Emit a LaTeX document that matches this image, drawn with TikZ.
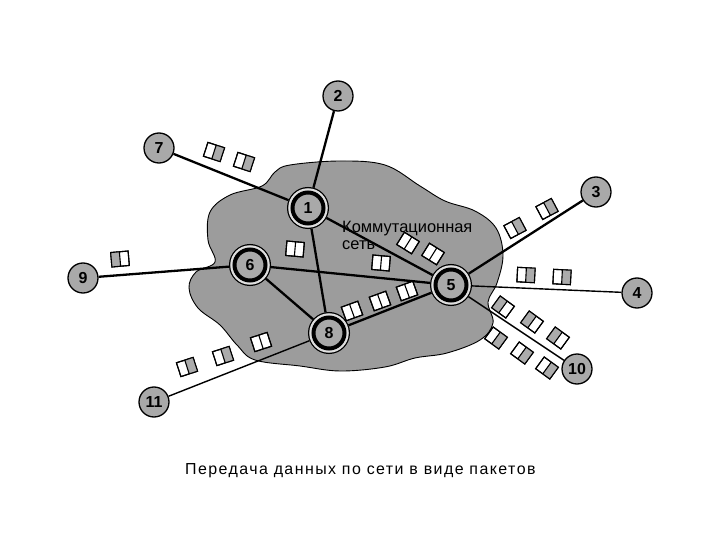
\documentclass[tikz,border=0pt]{standalone}
\usepackage{fontspec}
\setmainfont{Liberation Sans}
\definecolor{cloudgray}{HTML}{9C9C9C}
\definecolor{nodegray}{HTML}{A9A9A9}
\definecolor{stripe}{HTML}{ABABAB}
\tikzstyle{host} = [circle, draw, line width=1.3bp, fill=nodegray, minimum size=30bp, inner sep=0pt, font=\bfseries\fontsize{16}{16}\selectfont]
\tikzstyle{switch} = [circle, fill=nodegray, draw, line width=4bp, minimum size=31bp, inner sep=0pt, outer sep=5.5bp,
	preaction={draw=black, line width=11bp}, preaction={draw=gray!25, line width=8.5bp},
	font=\bfseries\fontsize{16}{16}\selectfont]
\tikzstyle{pkt} = [rectangle, draw, fill=white, line width=1.1bp, minimum width=17.5bp, minimum height=14.5bp,
	inner sep=0pt, outer sep=0pt]
\tikzstyle{trunk} = [line width=2.3bp]
\tikzstyle{link} = [line width=1.4bp]

\begin{document}
\begin{tikzpicture}[x=1bp, y=-1bp]
	\useasboundingbox (0,0) rectangle (720,540);
	% network cloud
	\draw[fill=cloudgray, line width=0.9bp] plot[smooth cycle, tension=0.6] coordinates {
		(290,165) (340,161) (385,165) (420,186) (445,201) (475,211) (496,228) (503,255)
		(497,283) (488,302) (493,323) (480,340) (447,353) (415,358) (385,367) (340,371)
		(300,366) (255,360) (237,345) (220,325) (198,308) (189,288) (196,272) (215,262)
		(208,240) (210,212) (230,195) (262,186) (275,172)};
	\node[anchor=base west, font=\fontsize{16.5}{16.5}\selectfont, inner sep=0pt] (net) at (342,233)
		{Коммутационная};
	\node[anchor=base west, font=\fontsize{16.5}{16.5}\selectfont, inner sep=0pt] (net2) at (342,250) {сеть};

	% switching nodes
	\node[switch] (s1) at (308,208) {1};
	\node[switch] (s5) at (451,285) {5};
	\node[switch] (s6) at (250,265) {6};
	\node[switch] (s8) at (329,333) {8};

	% end nodes
	\node[host] (h2) at (338,96) {2};
	\node[host] (h3) at (596,192) {3};
	\node[host] (h4) at (637,293) {4};
	\node[host] (h7) at (159,148) {7};
	\node[host] (h9) at (83,278) {9};
	\node[host] (h10) at (577,369) {10};
	\node[host] (h11) at (154,402) {11};

	% channels
	\draw[trunk] (s1) -- (h2);
	\draw[trunk] (s1) -- (h7);
	\draw[trunk] (s1) -- (s5);
	\draw[trunk] (s1) -- (s8);
	\draw[trunk] (s6) -- (s5);
	\draw[trunk] (s6) -- (s8);
	\draw[trunk] (s8) -- (s5);
	\draw[trunk] (s6) -- (h9);
	\draw[trunk] (s5) -- (h3);
	\draw[link] (s5) -- (h4);
	\draw[link] (s5) -- (h10);
	\draw[link] (s8) -- (h11);

	% packets
	\node[pkt, rotate=-18] (p1) at (214,152) {};
	\node[pkt, rotate=-18] (p2) at (244,162) {};
	\node[pkt, rotate=-32] (p3) at (408,243) {};
	\node[pkt, rotate=-32] (p4) at (433,254) {};
	\node[pkt, rotate=-5] (p5) at (295,249) {};
	\node[pkt, rotate=-5] (p6) at (381,263) {};
	\node[pkt, rotate=20] (p7) at (352,311) {};
	\node[pkt, rotate=20] (p8) at (380,301) {};
	\node[pkt, rotate=20] (p9) at (407,291) {};
	\node[pkt, rotate=18] (p10) at (261,342) {};
	\node[pkt, rotate=18] (p11) at (223,356) {};
	\node[pkt, rotate=18] (p12) at (187,367) {};
	\node[pkt, rotate=5] (p13) at (120,259) {};
	\node[pkt, rotate=28] (p14) at (515,228) {};
	\node[pkt, rotate=28] (p15) at (547,209) {};
	\node[pkt, rotate=-3] (p16) at (526,275) {};
	\node[pkt, rotate=-3] (p17) at (562,277) {};
	\node[pkt, rotate=-36] (p18) at (503,307) {};
	\node[pkt, rotate=-36] (p19) at (532,322) {};
	\node[pkt, rotate=-36] (p20) at (558,338) {};
	\node[pkt, rotate=-36] (p21) at (496,338) {};
	\node[pkt, rotate=-36] (p22) at (522,353) {};
	\node[pkt, rotate=-36] (p23) at (547,368) {};
	% shaded halves
	\foreach \p in {p1,p2,p11,p12,p14,p15,p16,p17,p21,p22,p23}
		\fill[stripe] (\p.north) -- (\p.north east) -- (\p.south east) -- (\p.south) -- cycle;
	\foreach \p in {p13,p18,p19,p20}
		\fill[stripe] (\p.north) -- (\p.north west) -- (\p.south west) -- (\p.south) -- cycle;
	\foreach \p in {p1,p2,p3,p4,p5,p6,p7,p8,p9,p10,p11,p12,p13,p14,p15,p16,p17,p18,p19,p20,p21,p22,p23}
		\draw[line width=1.1bp] (\p.north west) -- (\p.north east) -- (\p.south east) -- (\p.south west) -- cycle
			(\p.north) -- (\p.south);

	% caption
	\node[anchor=base west, inner sep=0pt, font=\fontsize{16}{16}\selectfont\addfontfeatures{LetterSpace=9}] (cap) at (185,474)
		{Передача данных по сети в виде пакетов};
\end{tikzpicture}
\end{document}
